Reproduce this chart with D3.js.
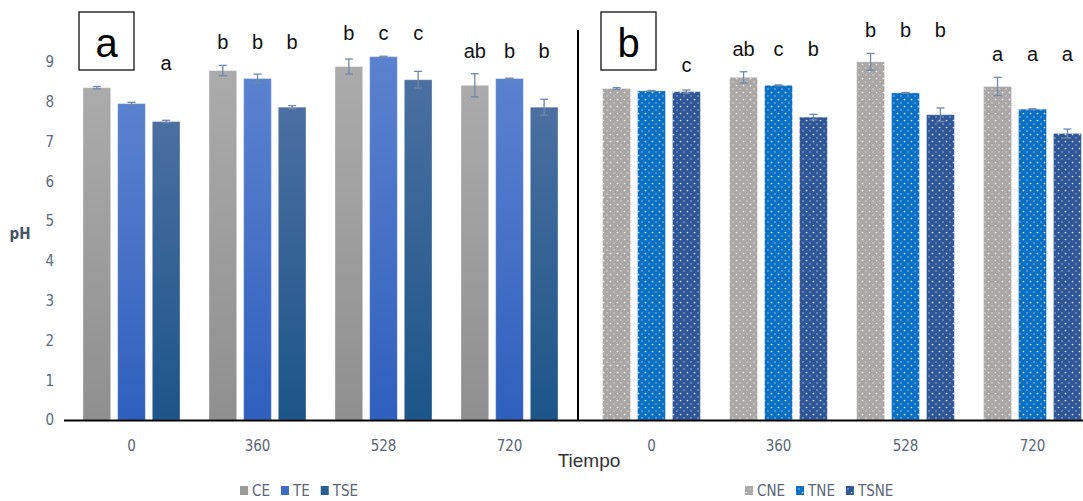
<!DOCTYPE html>
<html>
<head>
<meta charset="utf-8">
<script src="https://cdn.jsdelivr.net/npm/d3@7"></script>
<style>
  html, body { margin: 0; padding: 0; background: #fff; }
  svg { display: block; }
</style>
</head>
<body>
<svg id="chart" width="1083" height="501"></svg>
<script>
/* pH over time: panel a (CE/TE/TSE) and panel b (CNE/TNE/TSNE) */
var tiempos = ["0", "360", "528", "720"];
var yTicks = [0, 1, 2, 3, 4, 5, 6, 7, 8, 9];

var seriesA = ["CE", "TE", "TSE"];
var meanCE = [8.35, 8.78, 8.88, 8.41];
var meanTE = [7.95, 8.58, 9.13, 8.58];
var meanTSE = [7.50, 7.86, 8.55, 7.86];
var errCE = [0.03, 0.13, 0.19, 0.29];
var errTE = [0.03, 0.11, 0.01, 0.01];
var errTSE = [0.03, 0.04, 0.21, 0.20];
var letCE = ["", "b", "b", "ab"];
var letTE = ["", "b", "c", "b"];
var letTSE = ["a", "b", "c", "b"];

var seriesB = ["CNE", "TNE", "TSNE"];
var meanCNE = [8.33, 8.61, 9.00, 8.38];
var meanTNE = [8.27, 8.41, 8.22, 7.81];
var meanTSNE = [8.25, 7.61, 7.67, 7.20];
var errCNE = [0.02, 0.14, 0.21, 0.23];
var errTNE = [0.01, 0.01, 0.01, 0.01];
var errTSNE = [0.04, 0.07, 0.17, 0.11];
var letCNE = ["", "ab", "b", "a"];
var letTNE = ["", "c", "b", "a"];
var letTSNE = ["c", "b", "b", "a"];

var svg = d3.select("#chart");
var defs = svg.append("defs");

var y = d3.scaleLinear().domain([0, 9]).range([420, 61.8]);

// gradients for panel a
function grad(id, top, bottom) {
  var g = defs.append("linearGradient").attr("id", id)
    .attr("x1", 0).attr("y1", 0).attr("x2", 0).attr("y2", 1);
  g.append("stop").attr("offset", "0%").attr("stop-color", top);
  g.append("stop").attr("offset", "100%").attr("stop-color", bottom);
}
grad("gCE", "#ababab", "#8f8f8f");
grad("gTE", "#5b82cf", "#2f5fbd");
grad("gTSE", "#4b6fa0", "#1c5589");

// dotted patterns for panel b
function dots(id, base) {
  var p = defs.append("pattern").attr("id", id)
    .attr("patternUnits", "userSpaceOnUse").attr("width", 7).attr("height", 7);
  p.append("rect").attr("width", 7).attr("height", 7).attr("fill", base);
  p.append("circle").attr("cx", 1.5).attr("cy", 1.5).attr("r", 0.85).attr("fill", "#fff").attr("opacity", 0.85);
  p.append("circle").attr("cx", 5).attr("cy", 5).attr("r", 0.7).attr("fill", "#fff").attr("opacity", 0.7);
}
dots("pCNE", "#aaa7a7");
dots("pTNE", "#0b6fc4");
dots("pTSNE", "#2f5697");

function panel(opts) {
  var x0 = d3.scaleBand().domain(tiempos).range(opts.range)
    .paddingInner(0.23).paddingOuter(0.115);
  var x1 = d3.scaleBand().domain(opts.series).range([0, x0.bandwidth()])
    .paddingInner(0.2).paddingOuter(0);

  var rows = [];
  tiempos.forEach(function (t, i) {
    opts.series.forEach(function (s, j) {
      rows.push({ t: t, s: s, v: opts.means[j][i], e: opts.errs[j][i], l: opts.lets[j][i] });
    });
  });

  var g = svg.append("g");
  g.selectAll("rect.bar").data(rows).join("rect")
    .attr("class", "bar")
    .attr("x", function (d) { return x0(d.t) + x1(d.s); })
    .attr("y", function (d) { return y(d.v); })
    .attr("width", x1.bandwidth())
    .attr("height", function (d) { return y(0) - y(d.v); })
    .attr("fill", function (d) { return opts.fills[opts.series.indexOf(d.s)]; })
    .attr("stroke", "#ffffff").attr("stroke-opacity", 0.35).attr("stroke-width", 1);

  var eb = g.selectAll("g.err").data(rows).join("g").attr("class", "err")
    .attr("stroke", "#7088ab").attr("stroke-width", 1.3);
  eb.append("line")
    .attr("x1", function (d) { return x0(d.t) + x1(d.s) + x1.bandwidth() / 2; })
    .attr("x2", function (d) { return x0(d.t) + x1(d.s) + x1.bandwidth() / 2; })
    .attr("y1", function (d) { return y(d.v + d.e); })
    .attr("y2", function (d) { return y(d.v - d.e); });
  [1, -1].forEach(function (sg) {
    eb.append("line")
      .attr("x1", function (d) { return x0(d.t) + x1(d.s) + x1.bandwidth() / 2 - 4; })
      .attr("x2", function (d) { return x0(d.t) + x1(d.s) + x1.bandwidth() / 2 + 4; })
      .attr("y1", function (d) { return y(d.v + sg * d.e); })
      .attr("y2", function (d) { return y(d.v + sg * d.e); });
  });

  // significance letters, one row per time group
  var groupTop = {};
  rows.forEach(function (d) {
    groupTop[d.t] = Math.max(groupTop[d.t] || 0, d.v + d.e);
  });
  g.selectAll("text.let").data(rows.filter(function (d) { return d.l; })).join("text")
    .attr("class", "let")
    .attr("x", function (d) { return x0(d.t) + x1(d.s) + x1.bandwidth() / 2; })
    .attr("y", function (d) { return y(groupTop[d.t]) - 16; })
    .attr("text-anchor", "middle")
    .attr("fill", "#111")
    .style("font-family", "'Liberation Sans Narrow', 'Liberation Sans', Arial, sans-serif")
    .style("font-size", "20px")
    .text(function (d) { return d.l; });

  // x axis labels
  var xa = svg.append("g").attr("transform", "translate(0,420)")
    .call(d3.axisBottom(x0).tickSize(0).tickPadding(20));
  xa.select(".domain").remove();
  xa.selectAll("text")
    .attr("fill", "#5b6575")
    .style("font-family", "'Liberation Sans Narrow', 'DejaVu Sans Condensed', sans-serif")
    .style("font-size", "15px");

  // panel tag box
  svg.append("rect").attr("x", opts.box).attr("y", 12).attr("width", 55).attr("height", 58)
    .attr("fill", "#fff").attr("stroke", "#111").attr("stroke-width", 1.3);
  svg.append("text").attr("x", opts.box + 27.5).attr("y", 57)
    .attr("text-anchor", "middle").attr("fill", "#000")
    .style("font-family", "'Liberation Sans', Arial, sans-serif")
    .style("font-size", "40px")
    .text(opts.tag);

  // legend
  var lg = svg.append("g").attr("transform", "translate(" + opts.legendX + ",491)");
  var lx = 0;
  opts.series.forEach(function (s, j) {
    lg.append("rect").attr("x", lx).attr("y", -5).attr("width", 8).attr("height", 9)
      .attr("fill", opts.legendFills[j]);
    var t = lg.append("text").attr("x", lx + 12).attr("y", 5)
      .attr("fill", "#5b6575")
      .style("font-family", "'Liberation Sans Narrow', 'DejaVu Sans Condensed', sans-serif")
      .style("font-size", "15px")
      .text(s);
    lx += 12 + t.node().getComputedTextLength() + 11;
  });
}

panel({
  range: [68.5, 572.5], series: seriesA,
  means: [meanCE, meanTE, meanTSE], errs: [errCE, errTE, errTSE], lets: [letCE, letTE, letTSE],
  fills: ["url(#gCE)", "url(#gTE)", "url(#gTSE)"],
  legendFills: ["#9a9a9a", "#3d6cc6", "#2a5f93"],
  box: 79, tag: "a", legendX: 240
});
panel({
  range: [588, 1096], series: seriesB,
  means: [meanCNE, meanTNE, meanTSNE], errs: [errCNE, errTNE, errTSNE], lets: [letCNE, letTNE, letTSNE],
  fills: ["url(#pCNE)", "url(#pTNE)", "url(#pTSNE)"],
  legendFills: ["url(#pCNE)", "url(#pTNE)", "url(#pTSNE)"],
  box: 601, tag: "b", legendX: 745
});

// y axis (left panel only)
var ya = svg.append("g").attr("transform", "translate(62,0)")
  .call(d3.axisLeft(y).tickValues(yTicks).tickSize(0).tickPadding(8));
ya.select(".domain").remove();
ya.selectAll("text")
  .attr("fill", "#5b6b80")
  .style("font-family", "'Liberation Sans Narrow', 'DejaVu Sans Condensed', sans-serif")
  .style("font-size", "15px");

svg.append("text").attr("x", 20).attr("y", 239).attr("text-anchor", "middle")
  .attr("fill", "#44546a").style("font-weight", "bold")
  .style("font-family", "'Liberation Sans Narrow', 'DejaVu Sans Condensed', sans-serif")
  .style("font-size", "15px").text("pH");

// baseline and separator
svg.append("line").attr("x1", 64).attr("x2", 1083).attr("y1", y(0) + 0.5).attr("y2", y(0) + 0.5)
  .attr("stroke", "#000").attr("stroke-width", 2);
svg.append("line").attr("x1", 578).attr("x2", 578).attr("y1", 30).attr("y2", 420)
  .attr("stroke", "#000").attr("stroke-width", 2);

svg.append("text").attr("x", 589).attr("y", 467).attr("text-anchor", "middle")
  .attr("fill", "#333")
  .style("font-family", "'Liberation Sans', Arial, sans-serif")
  .style("font-size", "19px").text("Tiempo");
</script>
</body>
</html>
